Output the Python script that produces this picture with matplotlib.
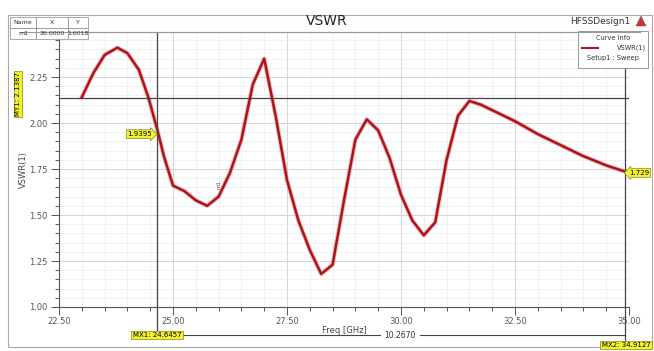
import numpy as np
import matplotlib.pyplot as plt
from matplotlib.patches import Rectangle, Polygon
from matplotlib.ticker import MultipleLocator

# 曲线数据 (读自图片)
freq = [23.0, 23.25, 23.5, 23.78, 24.0, 24.25, 24.46, 24.66, 24.8, 25.0,
        25.25, 25.5, 25.75, 26.0, 26.25, 26.5, 26.75, 27.0, 27.25, 27.5,
        27.75, 28.0, 28.25, 28.5, 28.75, 29.0, 29.25, 29.5, 29.75, 30.0,
        30.25, 30.5, 30.75, 31.0, 31.25, 31.5, 31.75, 32.0, 32.5, 33.0,
        33.5, 34.0, 34.5, 35.0]
vswr = [2.14, 2.27, 2.37, 2.41, 2.38, 2.29, 2.14, 1.96, 1.82, 1.66,
        1.63, 1.58, 1.55, 1.60, 1.73, 1.91, 2.21, 2.35, 2.04, 1.69,
        1.47, 1.31, 1.18, 1.23, 1.58, 1.91, 2.02, 1.96, 1.81, 1.61,
        1.47, 1.39, 1.46, 1.80, 2.04, 2.12, 2.10, 2.07, 2.01, 1.94,
        1.88, 1.82, 1.77, 1.729]

# 标记
mx1, mx2 = 24.6457, 34.9127
my1 = 2.1387
mx1_y = 1.9395
m1_x, m1_y = 26.0, 1.6018
end_y = 1.729

W, H = 654, 351
fig = plt.figure(figsize=(W / 100, H / 100), dpi=100)
ax = fig.add_axes([59 / W, 1 - 307 / H, 570 / W, 275 / H])

ax.set_xlim(22.5, 35.0)
ax.set_ylim(1.0, 2.495)
ax.xaxis.set_major_locator(MultipleLocator(2.5))
ax.xaxis.set_minor_locator(MultipleLocator(0.5))
ax.yaxis.set_major_locator(MultipleLocator(0.25))
ax.yaxis.set_minor_locator(MultipleLocator(0.05))
ax.xaxis.set_major_formatter(lambda v, p: f"{v:.2f}")
ax.yaxis.set_major_formatter(lambda v, p: f"{v:.2f}")
ax.grid(which='major', color='#d4d4d4', lw=0.7)
ax.grid(which='minor', color='#ececec', lw=0.5)
ax.tick_params(which='both', direction='out', colors='#555555', labelsize=6, width=0.7)
ax.tick_params(which='major', length=6, pad=2)
ax.tick_params(which='minor', length=3)
ax.tick_params(axis='x', pad=1)
ax.spines['right'].set_visible(False)
ax.spines['top'].set_color('#999999')
ax.spines['left'].set_color('#555555')
ax.spines['bottom'].set_color('#555555')

# 曲线
ax.plot(freq, vswr, color='#e89090', lw=3.2, alpha=0.6, solid_joinstyle='round')
ax.plot(freq, vswr, color='#ad1419', lw=1.8, solid_joinstyle='round')

# 标记线
ax.axhline(my1, color='#444444', lw=0.9)
ax.axvline(mx1, color='#444444', lw=0.9)
ax.axvline(mx2, color='#444444', lw=0.9)
ax.text(m1_x, m1_y + 0.04, 'm1', fontsize=4, rotation=90, color='#555555',
        ha='center', va='bottom')

ax.set_xlabel('Freq [GHz]', fontsize=6, color='#444444', labelpad=0)
ax.set_ylabel('VSWR(1)', fontsize=6, color='#444444', labelpad=1)

yellow = '#f2f230'
ax.text(mx1 - 0.1, mx1_y, f'{mx1_y:.4f}', fontsize=5, ha='right', va='center',
        bbox=dict(boxstyle='rarrow,pad=0.2', fc=yellow, ec='#888800', lw=0.5))
ax.text(35.0, end_y, f'{end_y:.3f}', fontsize=5, ha='left', va='center',
        bbox=dict(boxstyle='larrow,pad=0.2', fc=yellow, ec='#888800', lw=0.5),
        clip_on=False)

# 图外元素
fig.patches.append(Rectangle((8 / W, 4 / H), 644 / W, 1 - 19 / H, transform=fig.transFigure,
                             fill=False, ec='#aaaaaa', lw=0.8))
fig.add_artist(plt.Line2D([20 / W, 640 / W], [1 - 32 / H] * 2, color='#999999', lw=0.8))

fig.text(0.5, 1 - 21 / H, 'VSWR', fontsize=10, ha='center', va='center', color='#222222')
fig.text(600 / W, 1 - 21 / H, 'HFSSDesign1', fontsize=6.5, ha='center', va='center',
         color='#333333')
fig.patches.append(Polygon([[636 / W, 1 - 26 / H], [646 / W, 1 - 26 / H], [641 / W, 1 - 16 / H]],
                           closed=True, transform=fig.transFigure, fc='#cc3333', ec='#666666', lw=0.4))

# 标记表
ty0 = 17
cols = [(10, 36), (36, 68), (68, 88)]
for row, vals in enumerate([['Name', 'X', 'Y'], ['m1', f'{m1_x:.4f}', f'{m1_y:.4f}']]):
    for (a, b), v in zip(cols, vals):
        y0 = ty0 + row * 11
        fig.patches.append(Rectangle((a / W, 1 - (y0 + 11) / H), (b - a) / W, 11 / H,
                                     transform=fig.transFigure, fc='white', ec='#888888', lw=0.5))
        fig.text((a + b) / 2 / W, 1 - (y0 + 5.5) / H, v, fontsize=4.5, ha='center',
                 va='center', color='#333333')

# 图例
fig.patches.append(Rectangle((578 / W, 1 - 68 / H), 70 / W, 37 / H, transform=fig.transFigure,
                             fc='white', ec='#888888', lw=0.6))
fig.text(613 / W, 1 - 38 / H, 'Curve Info', fontsize=4.8, ha='center', va='center', color='#333333')
fig.add_artist(plt.Line2D([582 / W, 598 / W], [1 - 48 / H] * 2, color='#b5161c', lw=1.5))
fig.text(646 / W, 1 - 48 / H, 'VSWR(1)', fontsize=4.8, ha='right', va='center', color='#333333')
fig.text(613 / W, 1 - 58 / H, 'Setup1 : Sweep', fontsize=4.8, ha='center', va='center', color='#333333')

# MY1 标签
fig.text(18 / W, 1 - 94 / H, f'MY1: {my1:.4f}', fontsize=5, rotation=90, ha='center', va='center',
         bbox=dict(boxstyle='square,pad=0.2', fc=yellow, ec='#888800', lw=0.5))

# MX 标签和间距
x1_px = 59 + (mx1 - 22.5) / 12.5 * 570
x2_px = 59 + (mx2 - 22.5) / 12.5 * 570
fig.add_artist(plt.Line2D([x1_px / W] * 2, [1 - 307 / H, 1 - 330 / H], color='#444444', lw=0.9))
fig.add_artist(plt.Line2D([x2_px / W] * 2, [1 - 307 / H, 1 - 340 / H], color='#444444', lw=0.9))
fig.add_artist(plt.Line2D([180 / W, 380 / W], [1 - 335 / H] * 2, color='#444444', lw=0.8))
fig.add_artist(plt.Line2D([420 / W, x2_px / W], [1 - 335 / H] * 2, color='#444444', lw=0.8))
fig.text(400 / W, 1 - 335 / H, f'{mx2 - mx1:.4f}', fontsize=5.5, ha='center', va='center',
         color='#333333')
fig.text(x1_px / W, 1 - 335 / H, f'MX1: {mx1:.4f}', fontsize=5, ha='center', va='center',
         bbox=dict(boxstyle='square,pad=0.2', fc=yellow, ec='#888800', lw=0.5))
fig.text(626 / W, 1 - 345 / H, f'MX2: {mx2:.4f}', fontsize=5, ha='center', va='center',
         bbox=dict(boxstyle='square,pad=0.2', fc=yellow, ec='#888800', lw=0.5))

fig.savefig('out.png', dpi=100)
